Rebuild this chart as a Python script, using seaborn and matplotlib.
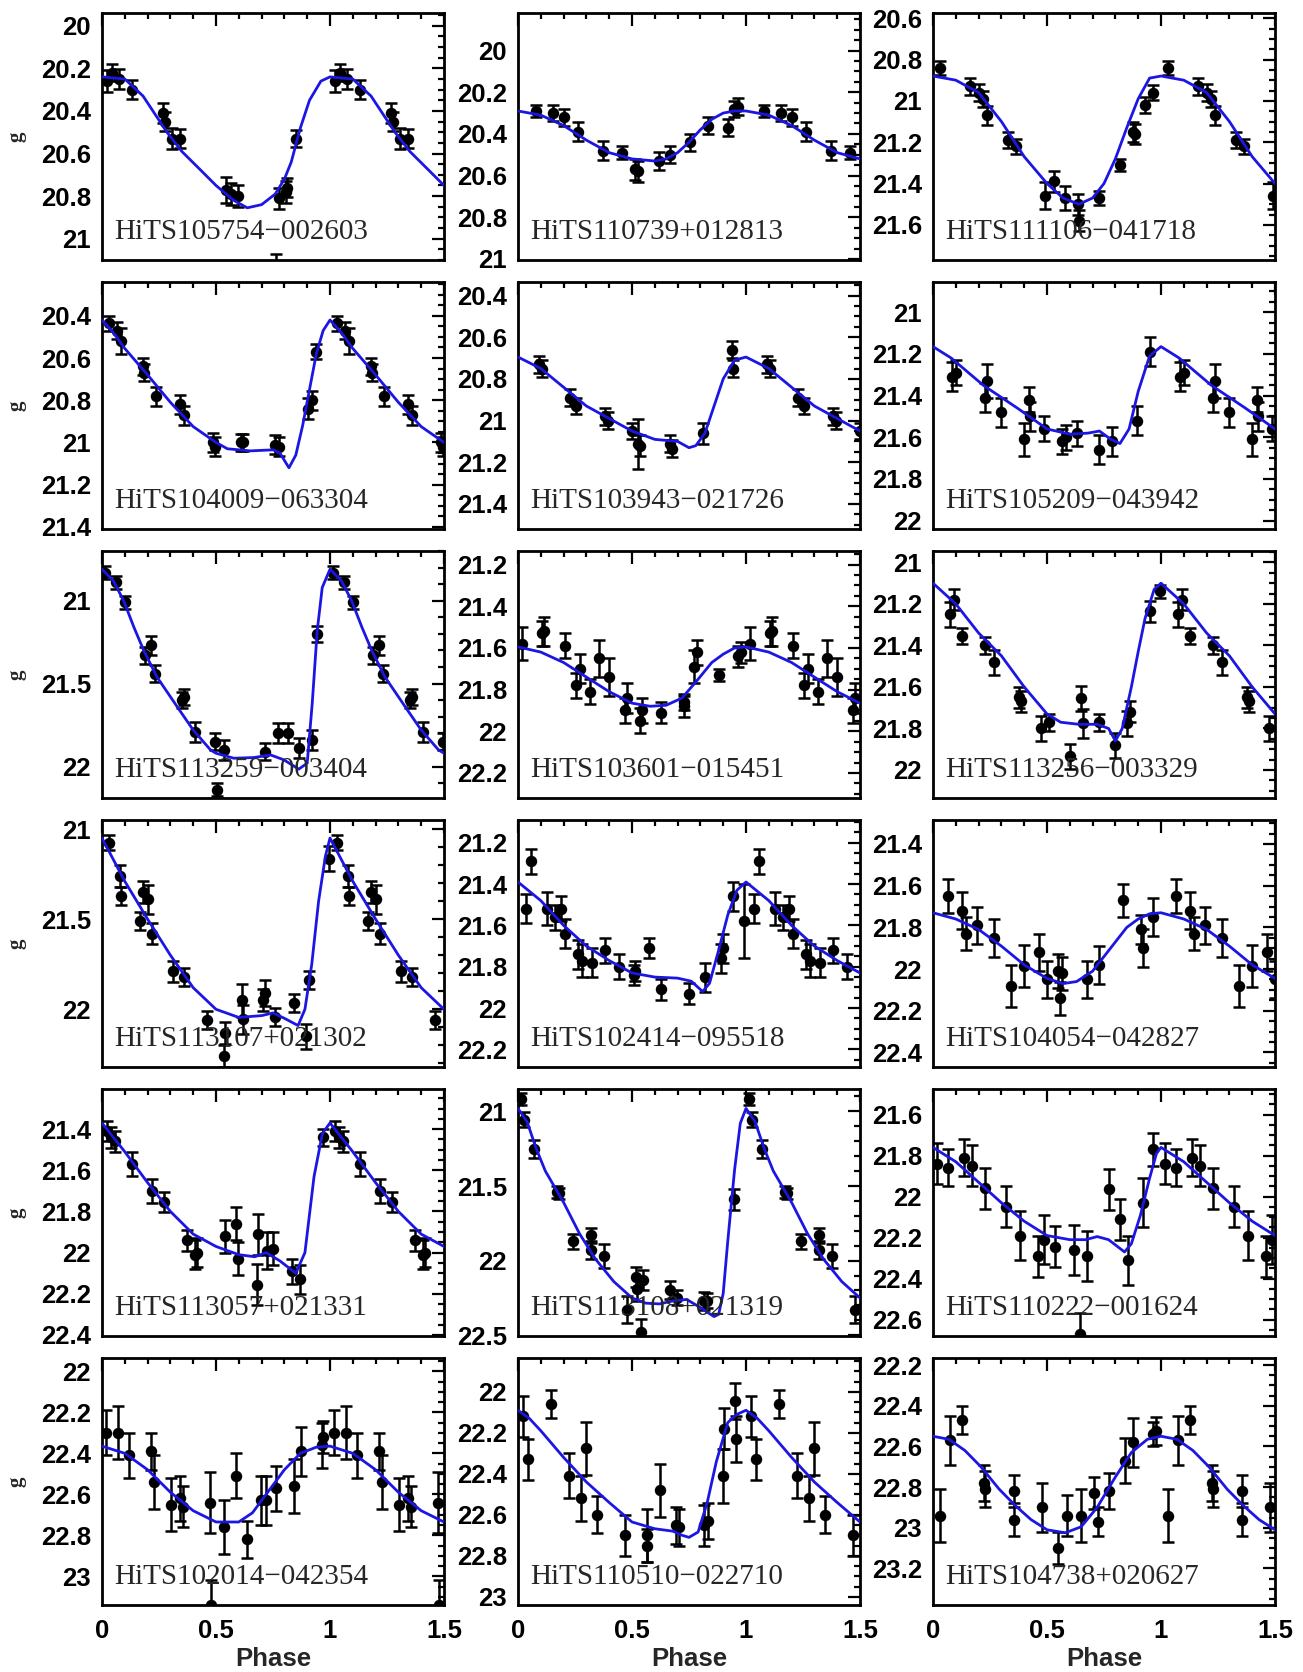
import numpy as np
import matplotlib
matplotlib.use("Agg")
import matplotlib.pyplot as plt
from matplotlib.ticker import MultipleLocator, FuncFormatter
import seaborn as sns

# ---------------------------------------------------------------- data
names = [
    "HiTS105754\u2212002603", "HiTS110739+012813", "HiTS111106\u2212041718",
    "HiTS104009\u2212063304", "HiTS103943\u2212021726", "HiTS105209\u2212043942",
    "HiTS113259\u2212003404", "HiTS103601\u2212015451", "HiTS113256\u2212003329",
    "HiTS113107+021302", "HiTS102414\u2212095518", "HiTS104054\u2212042827",
    "HiTS113057+021331", "HiTS113108+021319", "HiTS110222\u2212001624",
    "HiTS102014\u2212042354", "HiTS110510\u2212022710", "HiTS104738+020627",
]

# y limits (bright, faint) and major tick step for each panel
ylims = [
    (19.94, 21.10), (19.82, 21.005), (20.575, 21.77),
    (20.24, 21.41), (20.335, 21.52), (20.855, 22.04),
    (20.70, 22.19), (21.135, 22.32), (20.945, 22.135),
    (20.95, 22.32), (21.09, 22.285), (21.285, 22.47),
    (21.205, 22.405), (20.85, 22.505), (21.475, 22.68),
    (21.935, 23.14), (21.835, 23.04), (22.165, 23.38),
]
ysteps = [0.2, 0.2, 0.2, 0.2, 0.2, 0.2, 0.5, 0.2, 0.2,
          0.5, 0.2, 0.2, 0.2, 0.5, 0.2, 0.2, 0.2, 0.2]

# observed phase, g magnitude and error
ph01 = [0.022, 0.044, 0.073, 0.132, 0.268, 0.275, 0.307, 0.344, 0.545, 0.565, 0.595, 0.761, 0.776, 0.805, 0.812, 0.849]
g01 = [20.26, 20.22, 20.25, 20.30, 20.41, 20.45, 20.53, 20.53, 20.77, 20.79, 20.80, 21.17, 20.81, 20.78, 20.76, 20.53]
e01 = [0.05, 0.04, 0.045, 0.045, 0.045, 0.045, 0.05, 0.045, 0.06, 0.05, 0.05, 0.10, 0.05, 0.05, 0.045, 0.04]

ph02 = [0.08, 0.153, 0.20, 0.263, 0.372, 0.456, 0.515, 0.525, 0.617, 0.668, 0.755, 0.832, 0.923, 0.949, 0.967]
g02 = [20.29, 20.30, 20.32, 20.39, 20.48, 20.49, 20.57, 20.58, 20.53, 20.50, 20.44, 20.36, 20.37, 20.28, 20.27]
e02 = [0.03, 0.04, 0.04, 0.045, 0.045, 0.03, 0.05, 0.05, 0.045, 0.04, 0.04, 0.04, 0.04, 0.04, 0.04]

ph03 = [0.03, 0.164, 0.20, 0.22, 0.237, 0.328, 0.365, 0.49, 0.53, 0.58, 0.635, 0.64, 0.73, 0.82, 0.876, 0.885, 0.93, 0.967]
g03 = [20.84, 20.93, 20.96, 20.99, 21.07, 21.19, 21.22, 21.46, 21.39, 21.47, 21.50, 21.58, 21.47, 21.31, 21.15, 21.16, 21.02, 20.96]
e03 = [0.035, 0.04, 0.04, 0.04, 0.045, 0.04, 0.035, 0.065, 0.05, 0.06, 0.05, 0.05, 0.035, 0.03, 0.05, 0.05, 0.04, 0.035]

ph04 = [0.03, 0.066, 0.084, 0.18, 0.185, 0.237, 0.34, 0.36, 0.485, 0.495, 0.61, 0.62, 0.76, 0.775, 0.905, 0.923, 0.94]
g04 = [20.435, 20.47, 20.52, 20.64, 20.67, 20.78, 20.82, 20.87, 21.00, 21.02, 21.00, 21.00, 21.01, 21.02, 20.84, 20.80, 20.57]
e04 = [0.035, 0.04, 0.06, 0.04, 0.04, 0.045, 0.045, 0.045, 0.045, 0.045, 0.04, 0.04, 0.045, 0.045, 0.05, 0.045, 0.035]

ph05 = [0.09, 0.106, 0.226, 0.255, 0.383, 0.395, 0.498, 0.526, 0.535, 0.668, 0.675, 0.81, 0.938, 0.945]
g05 = [20.73, 20.75, 20.89, 20.93, 20.98, 21.00, 21.05, 21.11, 21.12, 21.11, 21.135, 21.06, 20.66, 20.75]
e05 = [0.04, 0.04, 0.04, 0.04, 0.04, 0.04, 0.04, 0.12, 0.05, 0.04, 0.04, 0.05, 0.04, 0.04]

ph06 = [0.084, 0.10, 0.23, 0.237, 0.30, 0.40, 0.42, 0.425, 0.485, 0.566, 0.584, 0.63, 0.73, 0.785, 0.894, 0.95]
g06 = [21.31, 21.29, 21.41, 21.33, 21.48, 21.61, 21.42, 21.50, 21.56, 21.62, 21.60, 21.58, 21.66, 21.62, 21.52, 21.19]
e06 = [0.07, 0.06, 0.07, 0.08, 0.07, 0.08, 0.06, 0.07, 0.06, 0.06, 0.06, 0.06, 0.07, 0.07, 0.07, 0.07]

ph07 = [0.015, 0.063, 0.10, 0.19, 0.217, 0.234, 0.352, 0.36, 0.407, 0.497, 0.506, 0.534, 0.714, 0.771, 0.815, 0.863, 0.922, 0.944]
g07 = [20.83, 20.89, 21.01, 21.33, 21.27, 21.44, 21.60, 21.58, 21.79, 21.85, 22.14, 21.90, 21.91, 21.80, 21.80, 21.89, 21.84, 21.20]
e07 = [0.04, 0.04, 0.04, 0.05, 0.06, 0.05, 0.05, 0.05, 0.06, 0.05, 0.04, 0.06, 0.05, 0.06, 0.06, 0.06, 0.06, 0.05]

ph08 = [0.018, 0.106, 0.115, 0.208, 0.255, 0.274, 0.317, 0.354, 0.40, 0.47, 0.48, 0.536, 0.545, 0.628, 0.726, 0.73, 0.774, 0.785, 0.883, 0.967, 0.98]
g08 = [21.58, 21.53, 21.52, 21.59, 21.78, 21.70, 21.81, 21.65, 21.74, 21.90, 21.84, 21.95, 21.90, 21.91, 21.88, 21.86, 21.69, 21.62, 21.73, 21.64, 21.62]
e08 = [0.08, 0.06, 0.07, 0.06, 0.06, 0.07, 0.06, 0.09, 0.09, 0.06, 0.07, 0.06, 0.06, 0.05, 0.05, 0.04, 0.08, 0.06, 0.03, 0.05, 0.05]

ph09 = [0.073, 0.09, 0.128, 0.23, 0.266, 0.376, 0.385, 0.474, 0.51, 0.60, 0.65, 0.657, 0.73, 0.80, 0.85, 0.865, 0.95, 0.996]
g09 = [21.25, 21.18, 21.355, 21.40, 21.48, 21.65, 21.67, 21.80, 21.77, 21.935, 21.655, 21.775, 21.77, 21.88, 21.775, 21.72, 21.235, 21.14]
e09 = [0.06, 0.05, 0.04, 0.04, 0.06, 0.05, 0.05, 0.06, 0.04, 0.06, 0.06, 0.07, 0.04, 0.06, 0.06, 0.05, 0.05, 0.03]

ph10 = [0.03, 0.077, 0.084, 0.168, 0.18, 0.20, 0.22, 0.31, 0.358, 0.46, 0.533, 0.54, 0.613, 0.62, 0.704, 0.715, 0.76, 0.843, 0.894, 0.91, 0.996]
g10 = [21.075, 21.26, 21.37, 21.51, 21.35, 21.39, 21.58, 21.79, 21.82, 22.06, 22.26, 22.13, 21.95, 22.055, 21.95, 21.91, 22.04, 21.965, 22.15, 21.835, 21.165]
e10 = [0.04, 0.06, 0.05, 0.05, 0.06, 0.08, 0.06, 0.06, 0.05, 0.05, 0.06, 0.06, 0.09, 0.08, 0.06, 0.07, 0.05, 0.05, 0.07, 0.05, 0.07]

ph11 = [0.036, 0.055, 0.128, 0.164, 0.19, 0.208, 0.263, 0.28, 0.325, 0.38, 0.445, 0.507, 0.515, 0.573, 0.628, 0.748, 0.82, 0.89, 0.90, 0.945, 0.993]
g11 = [21.52, 21.29, 21.52, 21.56, 21.52, 21.64, 21.74, 21.77, 21.78, 21.72, 21.80, 21.84, 21.82, 21.71, 21.91, 21.93, 21.85, 21.76, 21.71, 21.46, 21.58]
e11 = [0.07, 0.06, 0.08, 0.06, 0.06, 0.07, 0.07, 0.08, 0.07, 0.06, 0.06, 0.05, 0.05, 0.05, 0.05, 0.05, 0.07, 0.07, 0.07, 0.07, 0.18]

ph12 = [0.066, 0.128, 0.146, 0.193, 0.266, 0.34, 0.40, 0.463, 0.50, 0.547, 0.558, 0.565, 0.675, 0.73, 0.832, 0.912, 0.923, 0.967]
g12 = [21.65, 21.72, 21.83, 21.79, 21.85, 22.08, 21.985, 21.92, 22.05, 22.01, 22.14, 22.02, 22.05, 21.98, 21.67, 21.81, 21.90, 21.75]
e12 = [0.08, 0.09, 0.08, 0.09, 0.09, 0.10, 0.10, 0.09, 0.09, 0.08, 0.08, 0.08, 0.09, 0.09, 0.08, 0.07, 0.09, 0.09]

ph13 = [0.02, 0.04, 0.055, 0.13, 0.22, 0.27, 0.375, 0.41, 0.415, 0.54, 0.588, 0.595, 0.68, 0.686, 0.723, 0.75, 0.832, 0.87, 0.97]
g13 = [21.41, 21.44, 21.46, 21.57, 21.70, 21.755, 21.94, 22.01, 22.00, 21.92, 21.86, 22.03, 22.155, 21.91, 21.99, 21.98, 22.09, 22.13, 21.44]
e13 = [0.05, 0.05, 0.05, 0.06, 0.06, 0.05, 0.05, 0.07, 0.07, 0.08, 0.08, 0.08, 0.10, 0.10, 0.09, 0.08, 0.06, 0.07, 0.04]

ph14 = [0.013, 0.028, 0.069, 0.171, 0.178, 0.242, 0.318, 0.32, 0.376, 0.479, 0.516, 0.523, 0.54, 0.548, 0.665, 0.696, 0.816, 0.83, 0.948]
g14 = [20.92, 21.055, 21.25, 21.54, 21.55, 21.87, 21.83, 21.93, 21.97, 22.33, 22.11, 22.19, 22.48, 22.13, 22.195, 22.25, 22.27, 22.27, 21.59]
e14 = [0.04, 0.05, 0.06, 0.04, 0.04, 0.05, 0.05, 0.06, 0.08, 0.09, 0.07, 0.08, 0.09, 0.07, 0.06, 0.05, 0.06, 0.05, 0.07]

ph15 = [0.018, 0.066, 0.135, 0.17, 0.23, 0.32, 0.383, 0.46, 0.485, 0.536, 0.62, 0.646, 0.675, 0.774, 0.82, 0.857, 0.923, 0.967]
g15 = [21.84, 21.86, 21.81, 21.85, 21.96, 22.05, 22.19, 22.29, 22.21, 22.245, 22.26, 22.67, 22.29, 21.965, 22.11, 22.31, 22.03, 21.77]
e15 = [0.10, 0.09, 0.09, 0.10, 0.10, 0.10, 0.12, 0.10, 0.12, 0.10, 0.12, 0.10, 0.12, 0.10, 0.10, 0.12, 0.12, 0.08]

ph16 = [0.019, 0.07, 0.117, 0.217, 0.23, 0.303, 0.344, 0.356, 0.473, 0.476, 0.534, 0.588, 0.637, 0.698, 0.72, 0.764, 0.841, 0.874, 0.966, 0.97]
g16 = [22.30, 22.30, 22.41, 22.39, 22.54, 22.65, 22.62, 22.66, 22.64, 23.14, 22.76, 22.51, 22.82, 22.63, 22.63, 22.57, 22.56, 22.39, 22.36, 22.32]
e16 = [0.11, 0.13, 0.11, 0.09, 0.13, 0.13, 0.11, 0.10, 0.15, 0.12, 0.13, 0.11, 0.09, 0.12, 0.12, 0.11, 0.13, 0.12, 0.11, 0.08]

ph17 = [0.022, 0.042, 0.145, 0.222, 0.277, 0.30, 0.347, 0.469, 0.564, 0.567, 0.621, 0.694, 0.706, 0.816, 0.835, 0.90, 0.904, 0.952, 0.955]
g17 = [22.12, 22.33, 22.06, 22.41, 22.52, 22.275, 22.60, 22.70, 22.70, 22.75, 22.48, 22.65, 22.66, 22.65, 22.63, 22.41, 22.18, 22.045, 22.23]
e17 = [0.10, 0.10, 0.07, 0.11, 0.11, 0.13, 0.09, 0.10, 0.13, 0.08, 0.13, 0.09, 0.09, 0.10, 0.09, 0.13, 0.10, 0.09, 0.11]

ph18 = [0.029, 0.073, 0.127, 0.223, 0.23, 0.355, 0.357, 0.478, 0.55, 0.589, 0.65, 0.705, 0.723, 0.774, 0.843, 0.876, 0.964, 0.976]
g18 = [22.94, 22.57, 22.47, 22.78, 22.81, 22.82, 22.96, 22.90, 23.10, 22.94, 22.94, 22.83, 22.97, 22.82, 22.67, 22.58, 22.54, 22.525]
e18 = [0.13, 0.12, 0.07, 0.09, 0.09, 0.08, 0.08, 0.12, 0.08, 0.10, 0.13, 0.08, 0.07, 0.09, 0.11, 0.12, 0.06, 0.07]

# fitted template light curves (phase 0..1)
cp01 = [0, 0.1, 0.18, 0.285, 0.35, 0.43, 0.5, 0.578, 0.637, 0.70, 0.76, 0.80, 0.83, 0.87, 0.91, 0.96, 1.0]
cg01 = [20.24, 20.25, 20.33, 20.50, 20.59, 20.675, 20.75, 20.82, 20.855, 20.84, 20.79, 20.72, 20.64, 20.48, 20.35, 20.26, 20.24]
cp02 = [0, 0.1, 0.2, 0.3, 0.4, 0.5, 0.6, 0.65, 0.7, 0.75, 0.8, 0.85, 0.9, 0.95, 1.0]
cg02 = [20.29, 20.31, 20.36, 20.43, 20.49, 20.52, 20.53, 20.52, 20.49, 20.44, 20.38, 20.33, 20.30, 20.29, 20.29]
cp03 = [0, 0.1, 0.2, 0.3, 0.4, 0.5, 0.57, 0.64, 0.7, 0.75, 0.8, 0.85, 0.9, 0.95, 1.0]
cg03 = [20.88, 20.90, 20.96, 21.10, 21.27, 21.40, 21.47, 21.50, 21.47, 21.40, 21.28, 21.13, 20.99, 20.89, 20.88]
cp04 = [0, 0.05, 0.1, 0.2, 0.3, 0.4, 0.5, 0.55, 0.65, 0.75, 0.78, 0.82, 0.85, 0.88, 0.91, 0.94, 0.97, 1.0]
cg04 = [20.42, 20.48, 20.555, 20.68, 20.81, 20.925, 21.00, 21.03, 21.04, 21.035, 21.05, 21.12, 21.06, 20.92, 20.75, 20.58, 20.47, 20.42]
cp05 = [0, 0.1, 0.2, 0.3, 0.4, 0.5, 0.6, 0.7, 0.75, 0.78, 0.82, 0.86, 0.9, 0.95, 1.0]
cg05 = [20.695, 20.75, 20.84, 20.93, 20.99, 21.05, 21.09, 21.10, 21.13, 21.12, 21.06, 20.93, 20.80, 20.71, 20.695]
cp06 = [0, 0.08, 0.22, 0.37, 0.5, 0.6, 0.68, 0.73, 0.78, 0.82, 0.86, 0.9, 0.95, 1.0]
cg06 = [21.165, 21.22, 21.35, 21.46, 21.56, 21.585, 21.58, 21.57, 21.61, 21.63, 21.56, 21.38, 21.21, 21.165]
cp07 = [0, 0.05, 0.095, 0.14, 0.183, 0.241, 0.33, 0.40, 0.476, 0.5, 0.578, 0.666, 0.739, 0.798, 0.863, 0.90, 0.922, 0.944, 0.966, 1.0]
cg07 = [20.81, 20.88, 21.0, 21.16, 21.30, 21.46, 21.64, 21.78, 21.90, 21.92, 21.95, 21.946, 21.93, 21.96, 22.016, 21.98, 21.62, 21.18, 20.92, 20.81]
cp08 = [0, 0.1, 0.2, 0.3, 0.4, 0.5, 0.58, 0.65, 0.72, 0.79, 0.85, 0.9, 0.95, 1.0]
cg08 = [21.595, 21.62, 21.67, 21.74, 21.81, 21.865, 21.88, 21.875, 21.84, 21.75, 21.67, 21.63, 21.60, 21.595]
cp09 = [0, 0.1, 0.2, 0.3, 0.4, 0.5, 0.56, 0.64, 0.72, 0.77, 0.80, 0.83, 0.87, 0.90, 0.93, 0.97, 1.0]
cg09 = [21.10, 21.20, 21.34, 21.45, 21.60, 21.73, 21.77, 21.78, 21.78, 21.80, 21.86, 21.80, 21.60, 21.43, 21.27, 21.13, 21.10]
cp10 = [0, 0.05, 0.1, 0.2, 0.3, 0.4, 0.5, 0.6, 0.7, 0.75, 0.8, 0.86, 0.89, 0.92, 0.95, 0.98, 1.0]
cg10 = [21.05, 21.17, 21.29, 21.50, 21.70, 21.88, 22.0, 22.045, 22.035, 22.02, 22.05, 22.09, 22.0, 21.75, 21.40, 21.15, 21.05]
cp11 = [0, 0.1, 0.2, 0.3, 0.4, 0.5, 0.6, 0.7, 0.76, 0.81, 0.84, 0.88, 0.92, 0.96, 1.0]
cg11 = [21.39, 21.48, 21.60, 21.70, 21.77, 21.83, 21.85, 21.855, 21.87, 21.92, 21.88, 21.72, 21.55, 21.43, 21.39]
cp12 = [0, 0.1, 0.2, 0.3, 0.4, 0.5, 0.57, 0.63, 0.7, 0.75, 0.8, 0.85, 0.9, 0.95, 1.0]
cg12 = [21.73, 21.76, 21.81, 21.89, 21.98, 22.045, 22.07, 22.06, 22.01, 21.94, 21.87, 21.80, 21.76, 21.735, 21.73]
cp13 = [0, 0.1, 0.2, 0.3, 0.4, 0.5, 0.6, 0.67, 0.72, 0.78, 0.85, 0.89, 0.93, 0.967, 1.0]
cg13 = [21.37, 21.51, 21.66, 21.80, 21.91, 21.97, 22.01, 22.02, 22.00, 22.04, 22.10, 22.00, 21.63, 21.42, 21.37]
cp14 = [0, 0.04, 0.08, 0.12, 0.2, 0.27, 0.34, 0.42, 0.5, 0.56, 0.62, 0.68, 0.74, 0.8, 0.86, 0.88, 0.9, 0.92, 0.95, 0.975, 1.0]
cg14 = [20.98, 21.07, 21.25, 21.40, 21.61, 21.82, 21.99, 22.14, 22.25, 22.285, 22.29, 22.27, 22.26, 22.315, 22.375, 22.36, 22.22, 21.87, 21.39, 21.08, 20.98]
cp15 = [0, 0.1, 0.2, 0.3, 0.4, 0.5, 0.6, 0.67, 0.72, 0.77, 0.84, 0.87, 0.91, 0.95, 0.98, 1.0]
cg15 = [21.76, 21.83, 21.93, 22.03, 22.12, 22.19, 22.21, 22.21, 22.195, 22.21, 22.27, 22.23, 22.09, 21.91, 21.79, 21.76]
cp16 = [0, 0.1, 0.2, 0.3, 0.4, 0.5, 0.6, 0.66, 0.72, 0.8, 0.87, 0.94, 1.0]
cg16 = [22.365, 22.40, 22.48, 22.59, 22.68, 22.735, 22.735, 22.69, 22.60, 22.48, 22.40, 22.37, 22.365]
cp17 = [0, 0.05, 0.1, 0.2, 0.3, 0.4, 0.5, 0.6, 0.68, 0.72, 0.75, 0.79, 0.83, 0.87, 0.92, 0.96, 1.0]
cg17 = [22.09, 22.13, 22.19, 22.32, 22.44, 22.54, 22.635, 22.668, 22.68, 22.70, 22.71, 22.684, 22.54, 22.34, 22.15, 22.11, 22.09]
cp18 = [0, 0.07, 0.14, 0.21, 0.29, 0.36, 0.43, 0.5, 0.58, 0.65, 0.72, 0.8, 0.87, 0.94, 1.0]
cg18 = [22.55, 22.565, 22.62, 22.70, 22.81, 22.89, 22.96, 23.01, 23.025, 22.995, 22.90, 22.75, 22.63, 22.565, 22.55]

obs = [(ph01, g01, e01), (ph02, g02, e02), (ph03, g03, e03), (ph04, g04, e04),
       (ph05, g05, e05), (ph06, g06, e06), (ph07, g07, e07), (ph08, g08, e08),
       (ph09, g09, e09), (ph10, g10, e10), (ph11, g11, e11), (ph12, g12, e12),
       (ph13, g13, e13), (ph14, g14, e14), (ph15, g15, e15), (ph16, g16, e16),
       (ph17, g17, e17), (ph18, g18, e18)]
fits = [(cp01, cg01), (cp02, cg02), (cp03, cg03), (cp04, cg04), (cp05, cg05),
        (cp06, cg06), (cp07, cg07), (cp08, cg08), (cp09, cg09), (cp10, cg10),
        (cp11, cg11), (cp12, cg12), (cp13, cg13), (cp14, cg14), (cp15, cg15),
        (cp16, cg16), (cp17, cg17), (cp18, cg18)]

PHASE_MAX = 1.5


def unfold(phase, *cols):
    """Repeat a folded light curve one cycle forward, up to PHASE_MAX."""
    phase = np.asarray(phase, float)
    keep = (phase + 1.0 <= PHASE_MAX + 1e-9) & (phase > 0)
    out = [np.concatenate([phase, phase[keep] + 1.0])]
    for c in cols:
        c = np.asarray(c, float)
        out.append(np.concatenate([c, c[keep]]))
    return out


# ---------------------------------------------------------------- style
sns.set_theme(style="white")
plt.rcParams.update({
    "font.family": ["Liberation Sans", "DejaVu Sans"],
    "font.weight": "bold",
    "axes.linewidth": 2.0,
    "axes.edgecolor": "black",
    "xtick.color": "black",
    "ytick.color": "black",
})

BLUE = "#1c16e4"
W, H = 1303, 1672
fig = plt.figure(figsize=(W / 100, H / 100), dpi=100)
fig.patch.set_facecolor("white")

lefts = [102, 518, 933]
top0, pitch, ph_px, pw_px = 13, 269, 247, 342
fmt = FuncFormatter(lambda v, p: f"{v:g}")

for i in range(18):
    r, c = divmod(i, 3)
    ax = fig.add_axes([lefts[c] / W, 1 - (top0 + pitch * r + ph_px) / H,
                       pw_px / W, ph_px / H])
    ax.set_facecolor("white")

    x, y, e = unfold(*obs[i])
    cx, cy = unfold(*fits[i])

    ax.errorbar(x, y, yerr=e, fmt="none", ecolor="black", elinewidth=1.8,
                capsize=4.5, capthick=1.8, zorder=2)
    sns.scatterplot(x=x, y=y, ax=ax, color="black", s=68, linewidth=0,
                    zorder=2.5, legend=False)
    sns.lineplot(x=cx, y=cy, ax=ax, color=BLUE, lw=2.0, sort=True,
                 estimator=None, zorder=3, legend=False)

    ax.set_xlim(0, PHASE_MAX)
    ax.set_ylim(ylims[i][1], ylims[i][0])

    ax.xaxis.set_major_locator(MultipleLocator(0.5))
    ax.xaxis.set_minor_locator(MultipleLocator(0.1))
    step = ysteps[i]
    ax.yaxis.set_major_locator(MultipleLocator(step))
    ax.yaxis.set_minor_locator(MultipleLocator(0.1 if step == 0.5 else 0.05))
    ax.xaxis.set_major_formatter(fmt)
    ax.yaxis.set_major_formatter(fmt)

    ax.tick_params(which="both", direction="in", top=True, right=True,
                   width=1.6, color="black")
    ax.tick_params(which="major", length=9)
    ax.tick_params(which="minor", length=4.5)
    ax.tick_params(axis="y", which="major", pad=8, labelsize=18.5)
    ax.tick_params(axis="x", which="major", pad=10, labelsize=18.5)
    for lab in ax.get_xticklabels() + ax.get_yticklabels():
        lab.set_fontweight("bold")

    if r < 5:
        ax.tick_params(axis="x", labelbottom=False)
        ax.set_xlabel("")
    else:
        ax.set_xlabel("Phase", fontsize=18.5, fontweight="bold", labelpad=3)

    if c == 0:
        ax.set_ylabel("g", fontsize=15, fontweight="bold",
                      fontfamily="Liberation Serif")
        ax.yaxis.set_label_coords(-0.222, 0.5)
    else:
        ax.set_ylabel("")

    ax.text(0.035, 0.085, names[i], transform=ax.transAxes,
            fontfamily="Liberation Serif", fontweight="normal",
            fontsize=21, va="baseline", ha="left", zorder=4)

    for s in ax.spines.values():
        s.set_linewidth(2.0)
        s.set_color("black")
        s.set_visible(True)

fig.savefig("out.png", dpi=100, facecolor="white")
